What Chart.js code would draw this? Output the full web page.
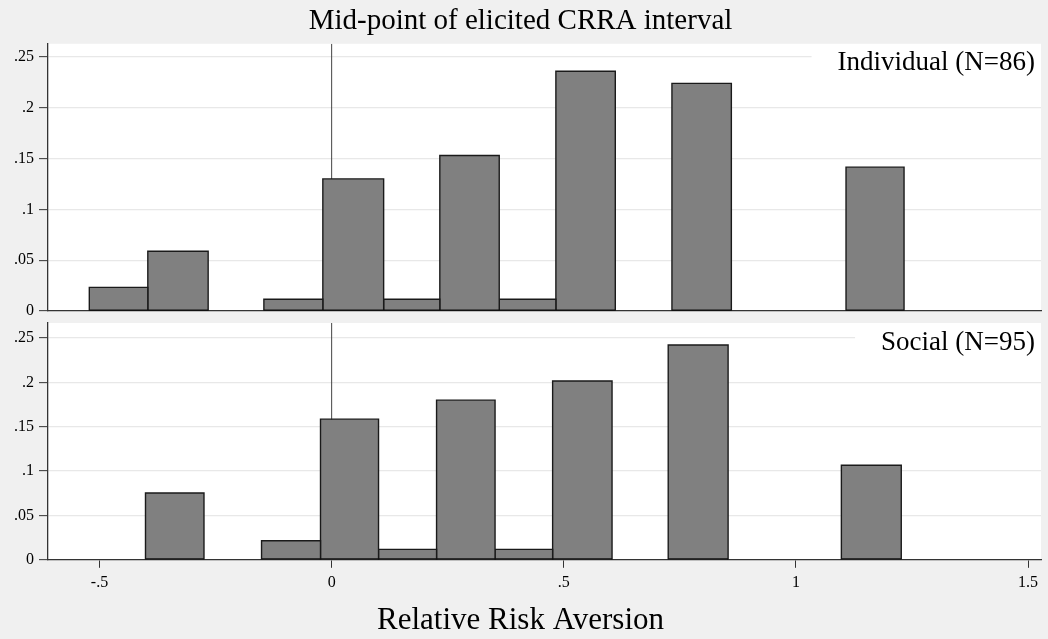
<!DOCTYPE html>
<html>
<head>
<meta charset="utf-8">
<title>Mid-point of elicited CRRA interval</title>
<script src="https://cdn.jsdelivr.net/npm/chart.js@4.4.1/dist/chart.umd.min.js"></script>
<style>
  html, body { margin: 0; padding: 0; background: #f0f0f0; }
  #wrap { position: relative; width: 1048px; height: 639px; }
  canvas { position: absolute; left: 0; }
  #top { top: 0; }
  #bottom { top: 320px; }
</style>
</head>
<body>
<div id="wrap">
  <canvas id="top" width="1048" height="320"></canvas>
  <canvas id="bottom" width="1048" height="319"></canvas>
</div>
<script>
// bins: left edge, right edge, fraction
const indLeft  = [-0.522, -0.396, -0.146, -0.019, 0.112, 0.233, 0.361, 0.483, 0.733, 1.108];
const indRight = [-0.396, -0.266, -0.019,  0.112, 0.233, 0.361, 0.483, 0.611, 0.861, 1.233];
const indFrac  = [0.0233, 0.0588, 0.0116, 0.130, 0.0116, 0.153, 0.0116, 0.236, 0.224, 0.1416];

const socLeft  = [-0.401, -0.151, -0.024, 0.101, 0.226, 0.352, 0.476, 0.725, 1.098];
const socRight = [-0.275, -0.024,  0.101, 0.226, 0.352, 0.476, 0.604, 0.854, 1.227];
const socFrac  = [0.0754, 0.0215, 0.1586, 0.0117, 0.180, 0.0117, 0.2016, 0.2422, 0.1066];

const yTicks = [0, 0.05, 0.1, 0.15, 0.2, 0.25];
const xTicks = [-0.5, 0, 0.5, 1, 1.5];
const xMin = -0.611, xMax = 1.528;
const yMaxTop = 0.263, yMaxBottom = 0.267;

const titleText = 'Mid-point of elicited CRRA interval';
const xTitle = 'Relative Risk Aversion';
const panelLabels = ['Individual (N=86)', 'Social (N=95)'];

const serif = "'Liberation Serif', 'DejaVu Serif', serif";

// stata style numbers: .5 instead of 0.5
function stataNum(v) {
  return String(v).replace(/^(-?)0\./, '$1.');
}

function barSets(left, right, frac) {
  return left.map(function(l, i) {
    return {
      data: [{x: l, y: 0}, {x: l, y: frac[i]}, {x: right[i], y: frac[i]}, {x: right[i], y: 0}],
      fill: 'origin',
      backgroundColor: '#808080',
      borderColor: '#1a1a1a',
      borderWidth: 1.4,
      pointRadius: 0,
      tension: 0,
      order: 2
    };
  });
}

// thick dark bottom edge under each bar
function baseSets(left, right) {
  return left.map(function(l, i) {
    return {
      data: [{x: l, y: 0}, {x: right[i], y: 0}],
      borderColor: '#111',
      borderWidth: 3,
      pointRadius: 0,
      fill: false,
      order: 1
    };
  });
}

function zeroLine(max) {
  return {
    data: [{x: 0, y: 0}, {x: 0, y: max}],
    borderColor: '#444',
    borderWidth: 1,
    pointRadius: 0,
    fill: false,
    order: 5
  };
}

function yScale(max) {
  return {
    min: 0,
    max: max,
    afterBuildTicks: function(s) { s.ticks = yTicks.map(v => ({value: v})); },
    afterFit: function(s) { s.width = 48; s.paddingTop = 0; s.paddingBottom = 0; },
    grid: { color: '#e8e8e8', lineWidth: 1.3, tickColor: '#333', tickLength: 9, tickWidth: 1 },
    border: { color: '#333', width: 1.3 },
    ticks: { color: '#000', padding: 5, font: {family: serif, size: 16}, callback: v => stataNum(v) }
  };
}

const plotBg = {
  id: 'plotBg',
  beforeDraw: function(chart) {
    const a = chart.chartArea;
    const ctx = chart.ctx;
    ctx.save();
    ctx.fillStyle = '#ffffff';
    ctx.fillRect(a.left, a.top, a.right - a.left, a.bottom - a.top);
    ctx.restore();
  }
};

const panelLabel = {
  id: 'panelLabel',
  afterDraw: function(chart, args, opts) {
    const a = chart.chartArea;
    const ctx = chart.ctx;
    ctx.save();
    ctx.font = '27px ' + serif;
    const w = ctx.measureText(opts.text).width;
    ctx.fillStyle = '#ffffff';
    ctx.fillRect(a.right - 6 - w - 26, a.top + 1, w + 32, 34);
    ctx.fillStyle = '#000';
    ctx.textAlign = 'right';
    ctx.textBaseline = 'alphabetic';
    ctx.fillText(opts.text, a.right - 6, a.top + 26.5);
    ctx.restore();
  }
};

new Chart(document.getElementById('top'), {
  type: 'line',
  data: { datasets: [zeroLine(yMaxTop)].concat(barSets(indLeft, indRight, indFrac), baseSets(indLeft, indRight)) },
  options: {
    responsive: false,
    animation: false,
    layout: { padding: { left: 0, right: 7, top: 0, bottom: 9 } },
    plugins: {
      legend: { display: false },
      tooltip: { enabled: false },
      title: {
        display: true, text: titleText, color: '#000',
        font: { family: serif, size: 29, weight: 'normal' },
        padding: { top: 4, bottom: 5 }
      },
      panelLabel: { text: panelLabels[0] }
    },
    scales: {
      x: {
        type: 'linear', min: xMin, max: xMax,
        ticks: { display: false },
        grid: { display: false },
        border: { color: '#333', width: 1.3 },
        afterFit: function(s) { s.height = 0; }
      },
      y: yScale(yMaxTop)
    }
  },
  plugins: [plotBg, panelLabel]
});

new Chart(document.getElementById('bottom'), {
  type: 'line',
  data: { datasets: [zeroLine(yMaxBottom)].concat(barSets(socLeft, socRight, socFrac), baseSets(socLeft, socRight)) },
  options: {
    responsive: false,
    animation: false,
    layout: { padding: { left: 0, right: 7, top: 3, bottom: 0 } },
    plugins: {
      legend: { display: false },
      tooltip: { enabled: false },
      // axis title as a bottom chart title so it centres on the page like the original
      title: {
        display: true, position: 'bottom', text: xTitle, color: '#000',
        font: { family: serif, size: 31, weight: 'normal' },
        padding: { top: 0, bottom: 0 }
      },
      panelLabel: { text: panelLabels[1] }
    },
    scales: {
      x: {
        type: 'linear', min: xMin, max: xMax,
        afterBuildTicks: function(s) { s.ticks = xTicks.map(v => ({value: v})); },
        afterFit: function(s) { s.height = 42; },
        grid: { drawOnChartArea: false, drawTicks: true, tickLength: 8, tickColor: '#333', tickWidth: 1 },
        border: { color: '#333', width: 1.3 },
        ticks: {
          color: '#000', padding: 5, maxRotation: 0, autoSkip: false,
          font: { family: serif, size: 16 }, callback: v => stataNum(v)
        }
      },
      y: yScale(yMaxBottom)
    }
  },
  plugins: [plotBg, panelLabel]
});
</script>
</body>
</html>
